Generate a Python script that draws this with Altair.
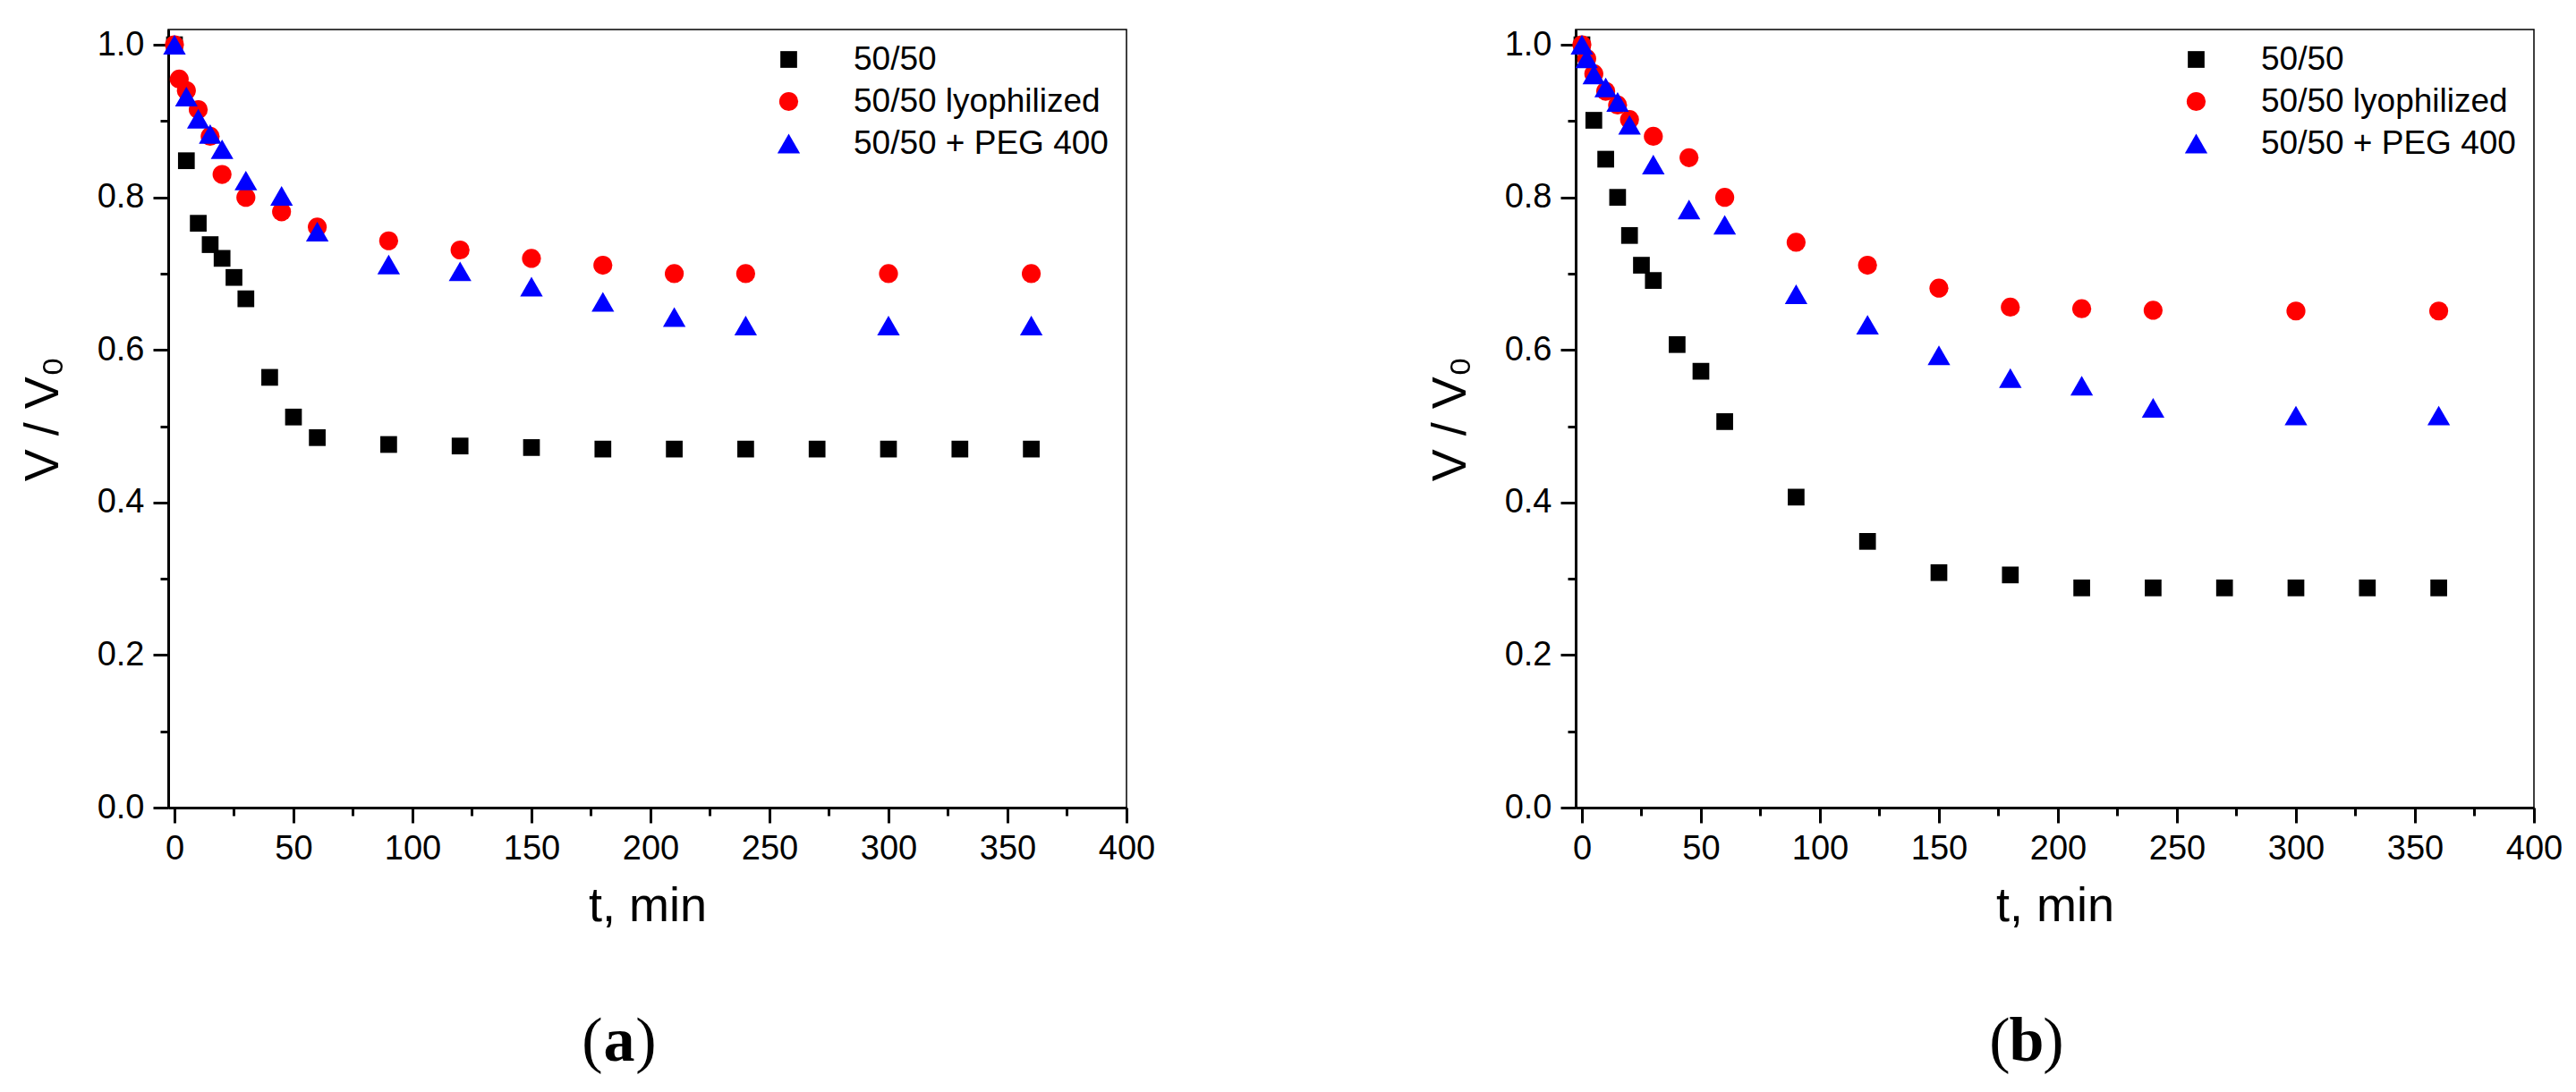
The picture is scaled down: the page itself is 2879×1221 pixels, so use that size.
import altair as alt
import pandas as pd

series = ["50/50", "50/50 lyophilized", "50/50 + PEG 400"]
colors = ["#000000", "#ff0000", "#0000ff"]
shapes = ["square", "circle", "triangle-up"]
sizes = [350, 450, 640]

# ---- panel (a) ----
a_t_plain = [0, 5, 10, 15, 20, 25, 30, 40, 50, 60, 90, 120, 150, 180, 210, 240, 270, 300, 330, 360]
a_v_plain = [1.0, 0.848, 0.766, 0.738, 0.720, 0.695, 0.667, 0.564, 0.512, 0.485, 0.476, 0.474,
             0.472, 0.470, 0.470, 0.470, 0.470, 0.470, 0.470, 0.470]
a_t_lyo = [0, 2, 5, 10, 15, 20, 30, 45, 60, 90, 120, 150, 180, 210, 240, 300, 360]
a_v_lyo = [1.0, 0.955, 0.940, 0.915, 0.880, 0.830, 0.800, 0.781, 0.761, 0.743, 0.731, 0.720,
           0.711, 0.700, 0.700, 0.700, 0.700]
a_t_peg = [0, 5, 10, 15, 20, 30, 45, 60, 90, 120, 150, 180, 210, 240, 300, 360]
a_v_peg = [1.0, 0.932, 0.903, 0.883, 0.863, 0.822, 0.802, 0.755, 0.712, 0.703, 0.683, 0.663,
           0.643, 0.632, 0.632, 0.632]

# ---- panel (b) ----
b_t_plain = [0, 5, 10, 15, 20, 25, 30, 40, 50, 60, 90, 120, 150, 180, 210, 240, 270, 300, 330, 360]
b_v_plain = [1.0, 0.901, 0.850, 0.800, 0.750, 0.711, 0.691, 0.607, 0.572, 0.506, 0.407, 0.349,
             0.308, 0.305, 0.288, 0.288, 0.288, 0.288, 0.288, 0.288]
b_t_lyo = [0, 2, 5, 10, 15, 20, 30, 45, 60, 90, 120, 150, 180, 210, 240, 300, 360]
b_v_lyo = [1.0, 0.982, 0.962, 0.939, 0.921, 0.902, 0.880, 0.852, 0.800, 0.741, 0.711, 0.681,
           0.656, 0.654, 0.652, 0.651, 0.651]
b_t_peg = [0, 2, 5, 10, 15, 20, 30, 45, 60, 90, 120, 150, 180, 210, 240, 300, 360]
b_v_peg = [1.0, 0.982, 0.961, 0.944, 0.925, 0.895, 0.843, 0.784, 0.764, 0.673, 0.633, 0.593,
           0.563, 0.553, 0.524, 0.514, 0.514]

x_ticks = list(range(0, 401, 25))
y_ticks = [round(i * 0.1, 1) for i in range(11)]

W, H = 1071, 870


def make_df(groups):
    rows = []
    for name, ts, vs in groups:
        for t, v in zip(ts, vs):
            rows.append({"t": t, "v": v, "series": name})
    return pd.DataFrame(rows)


df_a = make_df([(series[0], a_t_plain, a_v_plain), (series[1], a_t_lyo, a_v_lyo),
                (series[2], a_t_peg, a_v_peg)])
df_b = make_df([(series[0], b_t_plain, b_v_plain), (series[1], b_t_lyo, b_v_lyo),
                (series[2], b_t_peg, b_v_peg)])

x_axis = alt.Axis(
    values=x_ticks, title="t, min",
    labelExpr="datum.value % 50 === 0 ? datum.label : ''",
    tickSize={"expr": "datum.value % 50 === 0 ? 17 : 9"},
    labelPadding=10, titlePadding=18, labelFlush=False, grid=False,
)
y_axis = alt.Axis(
    values=y_ticks, title="V / V\u2080", format=".1f",
    labelExpr="round(datum.value * 10) % 2 === 0 ? datum.label : ''",
    tickSize={"expr": "round(datum.value * 10) % 2 === 0 ? 17 : 9"},
    labelPadding=10, titlePadding=33, labelFlush=False, grid=False,
)

one_row = alt.Data(values=[{"k": 1}])


def letter_text(s, dx, weight):
    return alt.Chart(one_row).mark_text(
        text=s, font="Liberation Serif", fontSize=70, fontWeight=weight,
        baseline="alphabetic", align="center", color="black",
    ).encode(x=alt.value(504 + dx), y=alt.value(1153))


def panel(df, letter):
    leg = alt.Legend(
        title=None, orient="none", legendX=675, legendY=15, padding=0,
        labelFontSize=37, labelFont="Liberation Sans", labelColor="black",
        labelOffset=54, rowPadding=9, labelLimit=900, symbolStrokeWidth=0,
    )
    pts = alt.Chart(df).mark_point(filled=True, opacity=1).encode(
        x=alt.X("t:Q", scale=alt.Scale(domain=[-2.63, 400], nice=False, zero=False), axis=x_axis),
        y=alt.Y("v:Q", scale=alt.Scale(domain=[0, 1.02], nice=False, zero=False), axis=y_axis),
        color=alt.Color("series:N", scale=alt.Scale(domain=series, range=colors), legend=leg),
        shape=alt.Shape("series:N", scale=alt.Scale(domain=series, range=shapes), legend=leg),
        size=alt.Size("series:N", scale=alt.Scale(type="ordinal", domain=series, range=sizes),
                      legend=leg),
    )
    return alt.layer(
        pts,
        letter_text("(", -30, "normal"),
        letter_text(letter, 0, "bold"),
        letter_text(")", 30, "normal"),
    ).properties(width=W, height=H)


chart = (
    alt.hconcat(panel(df_a, "a"), panel(df_b, "b"), spacing=301)
    .resolve_scale(color="independent", shape="independent", size="independent")
    .resolve_legend(color="independent", shape="independent", size="independent")
    .properties(padding={"left": 12, "top": 22, "right": 0, "bottom": 0}, background="white")
    .configure_view(stroke="black", strokeWidth=1.5)
    .configure_axis(
        domainColor="black", domainWidth=3, tickColor="black", tickWidth=3,
        labelColor="black", titleColor="black", labelFont="Liberation Sans",
        titleFont="Liberation Sans", labelFontSize=38, titleFontSize=54,
        titleFontWeight="normal",
    )
)

chart.save("out.html", embed_options={"renderer": "svg", "actions": False})
